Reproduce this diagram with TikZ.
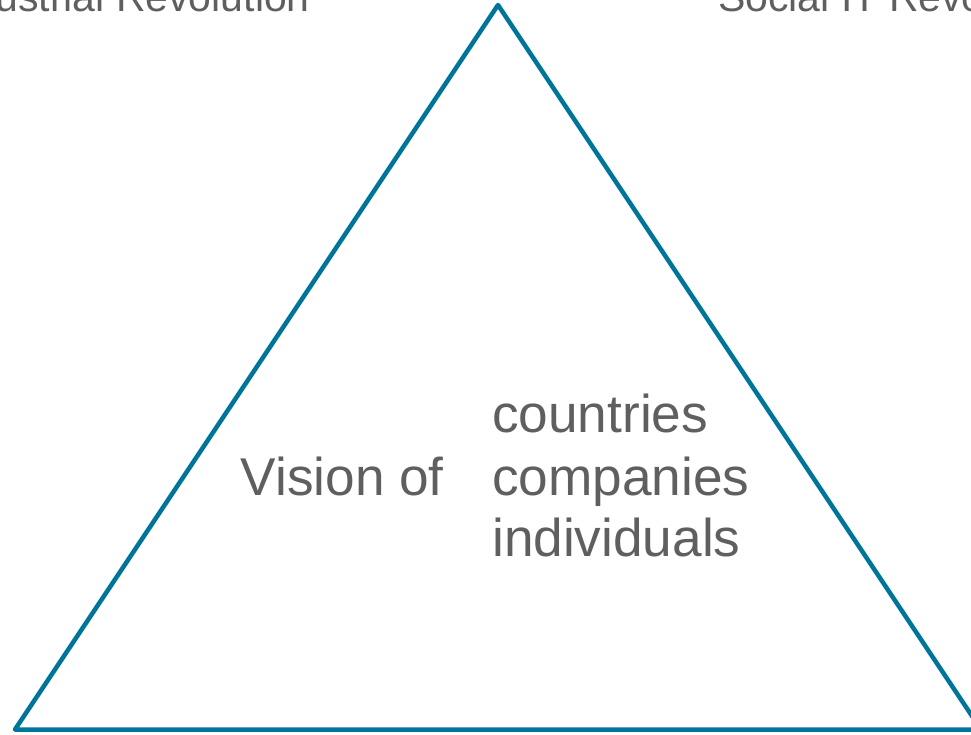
\documentclass[tikz,border=0pt]{standalone}
\usepackage{fontspec}
\setmainfont{Liberation Sans}
\definecolor{triline}{HTML}{00759B}
\definecolor{txtgray}{HTML}{5F5F5F}
\tikzset{
  bigtxt/.style  = {text=txtgray, inner sep=0pt, font=\fontsize{53.2}{62}\selectfont},
  toptxt/.style  = {text=txtgray, inner sep=0pt, font=\fontsize{41}{48}\selectfont},
  triedge/.style = {draw=triline, line width=4.5pt, line join=round},
}

\begin{document}
\begin{tikzpicture}[x=1pt, y=-1pt]
  \useasboundingbox (0,0) rectangle (971,735);
  \clip (0,0) rectangle (971,735);

  % triangle
  \coordinate (apex) at (498,5);
  \coordinate (botleft) at (15,729.5);
  \coordinate (botright) at (981,729.5);
  \draw[triedge] (apex) -- (botright) -- (botleft) -- cycle;

  % labels at the top, cut by the border
  \node[toptxt, anchor=base east] (industrial) at (310,12) {Industrial Revolution};
  \node[toptxt, anchor=base west] (socialit) at (718,12) {Social IT Revolution};

  % text inside
  \node[bigtxt, anchor=base east] (vision) at (444,495) {Vision of};
  \node[bigtxt, anchor=base west] (countries) at (492,432.7) {countries};
  \node[bigtxt, anchor=base west] (companies) at (492,495) {companies};
  \node[bigtxt, anchor=base west] (individuals) at (492,556.7) {individuals};
\end{tikzpicture}
\end{document}
